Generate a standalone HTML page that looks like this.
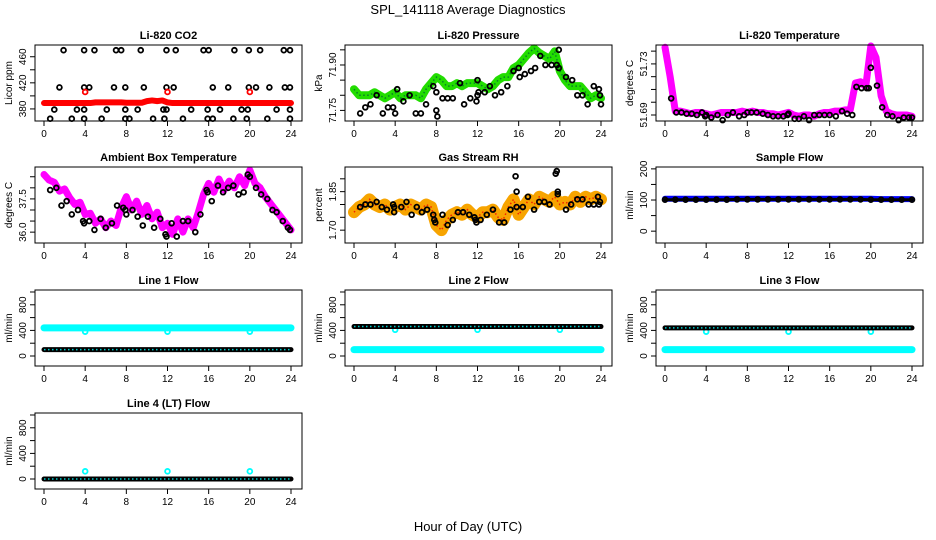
<!DOCTYPE html>
<html><head><meta charset="utf-8"><style>
html,body{margin:0;padding:0;background:#fff}
svg{display:block;font-family:"Liberation Sans",sans-serif}
</style></head><body>
<svg id="c" width="936" height="540" viewBox="0 0 936 540" xmlns="http://www.w3.org/2000/svg">
<text x="468" y="14" text-anchor="middle" font-size="13">SPL_141118  Average Diagnostics</text>
<text x="468" y="531" text-anchor="middle" font-size="13">Hour of Day (UTC)</text>
</svg>
<script>
// ---- data ----
const xTicks=[0,4,8,12,16,20,24];
const denseH=[0,0.5,1,1.5,2,2.5,3,3.5,4,4.5,5,5.5,6,6.5,7,7.5,8,8.5,9,9.5,10,10.5,11,11.5,12,12.5,13,13.5,14,14.5,15,15.5,16,16.5,17,17.5,18,18.5,19,19.5,20,20.5,21,21.5,22,22.5,23,23.5,24];
const hourlyH=[0,1,2,3,4,5,6,7,8,9,10,11,12,13,14,15,16,17,18,19,20,21,22,23,24];
const dipH=[4,12,20];

const co2Red=[389,389,389,389,389,389,389,389,389,389,390,390,390,390,390,390,389.5,389.5,389.5,389.5,392,393,392,393,390,389,389,389,389,389,389,389,389,389,389,389,389,389,389,389,389,389,389,389,389,389,389,389,389];
const co2RedDip=[406,406,406];
const co2BH=[1.9,3.9,4.9,7.0,7.5,9.4,11.9,12.8,15.5,16.0,18.5,19.9,21.0,23.3,23.9,1.5,3.9,4.4,6.8,7.9,9.7,11.9,12.6,16.4,17.9,19.9,20.6,21.9,23.4,23.9,1.0,3.2,3.9,6.1,7.9,9.1,11.6,11.9,14.3,15.9,17.1,19.2,19.8,22.6,23.9,0.6,2.7,3.9,5.6,7.9,8.3,10.6,11.7,13.5,15.9,16.4,18.4,19.7,21.7,23.9];
const co2BV=[470,470,470,470,470,470,470,470,470,470,470,470,470,470,470,413,413,413,413,413,413,413,413,413,413,413,413,413,413,413,379,379,379,379,379,379,379,379,379,379,379,379,379,379,379,365,365,365,365,365,365,365,365,365,365,365,365,365,365,365];

const presGreen=[71.82,71.80,71.80,71.80,71.81,71.80,71.79,71.80,71.81,71.79,71.80,71.80,71.80,71.79,71.82,71.84,71.86,71.85,71.83,71.83,71.84,71.83,71.84,71.84,71.84,71.83,71.82,71.83,71.85,71.86,71.86,71.89,71.90,71.92,71.94,71.955,71.94,71.93,71.92,71.945,71.88,71.85,71.83,71.83,71.83,71.81,71.79,71.80,71.79];
const presBH=[0.6,1.1,1.6,2.2,2.8,3.3,3.8,4.0,4.2,4.8,5.4,6.0,6.5,7.0,7.7,8.0,8.0,8.1,8.6,9.1,9.6,10.3,10.7,11.3,11.9,12.0,12.0,12.1,12.7,13.2,13.7,14.3,14.9,15.5,16.0,16.1,16.6,17.2,17.6,18.1,18.6,19.2,19.7,19.9,19.9,20.6,21.2,21.7,22.2,22.7,23.3,23.8,23.9,24.0];
const presBV=[71.74,71.76,71.77,71.80,71.74,71.76,71.76,71.74,71.82,71.78,71.80,71.74,71.74,71.77,71.83,71.81,71.75,71.73,71.79,71.79,71.79,71.84,71.77,71.79,71.78,71.80,71.85,71.81,71.81,71.83,71.80,71.81,71.83,71.88,71.89,71.86,71.87,71.88,71.89,71.93,71.90,71.90,71.90,71.89,71.95,71.86,71.85,71.80,71.80,71.77,71.83,71.82,71.80,71.77];

const tempMag=[51.743,51.720,51.693,51.693,51.692,51.691,51.692,51.692,51.691,51.690,51.691,51.692,51.692,51.692,51.692,51.693,51.692,51.693,51.692,51.692,51.691,51.691,51.690,51.691,51.692,51.690,51.689,51.690,51.690,51.689,51.691,51.692,51.692,51.693,51.693,51.694,51.694,51.715,51.716,51.712,51.744,51.735,51.705,51.693,51.691,51.690,51.690,51.690,51.689];
const tempBH=[0.6,1.1,1.6,2.1,2.6,3.1,3.6,3.9,4.0,4.5,5.1,5.6,6.1,6.6,7.2,7.7,8.0,8.4,8.9,9.5,10.0,10.5,11.0,11.5,11.9,12.0,12.6,13.0,13.5,14.0,14.5,15.0,15.5,16.0,16.6,17.2,17.7,18.2,18.6,19.1,19.6,19.8,20.0,20.6,21.1,21.6,22.1,22.7,23.2,23.7,24.0];
const tempBV=[51.703,51.692,51.692,51.691,51.691,51.690,51.692,51.689,51.690,51.688,51.690,51.686,51.690,51.692,51.689,51.690,51.692,51.692,51.692,51.691,51.690,51.689,51.689,51.689,51.690,51.691,51.687,51.687,51.689,51.686,51.690,51.690,51.690,51.690,51.689,51.693,51.691,51.690,51.712,51.711,51.711,51.711,51.727,51.713,51.696,51.690,51.689,51.686,51.688,51.688,51.688];

const ambMag=[38.60,38.35,38.25,37.85,37.95,37.55,37.25,37.35,36.80,36.85,36.40,36.60,36.20,36.50,36.30,37.10,37.60,37.00,37.40,36.80,37.20,36.60,36.90,36.20,36.40,35.90,36.60,36.00,36.60,36.20,36.90,37.70,38.20,37.80,38.40,37.90,38.30,38.00,38.50,38.10,38.80,38.20,38.00,37.60,37.30,37.00,36.70,36.40,36.10];
const ambBH=[0.6,1.2,1.7,2.2,2.7,3.3,3.8,3.9,4.4,4.9,5.5,6.0,6.6,7.1,7.7,7.9,8.0,8.6,9.1,9.6,10.1,10.7,11.3,11.8,11.9,12.4,12.9,13.5,14.0,14.7,15.2,15.8,15.9,16.3,16.9,17.4,17.9,18.4,18.9,19.4,19.8,20.0,20.6,21.1,21.7,22.2,22.6,23.2,23.7,23.9];
const ambBV=[37.9,38.0,37.2,37.4,36.8,37.0,36.5,36.4,36.5,36.1,36.6,36.2,36.4,37.2,37.1,37.0,36.8,37.0,36.7,36.3,36.7,36.2,36.6,35.9,35.8,36.4,35.8,36.5,36.5,36.0,36.8,37.9,37.8,37.4,38.1,37.8,38.0,38.1,37.7,37.8,38.6,38.5,38.0,37.7,37.5,37.0,36.9,36.5,36.2,36.1];

const rhOrange=[1.77,1.79,1.80,1.82,1.80,1.79,1.80,1.78,1.79,1.80,1.78,1.80,1.79,1.78,1.80,1.79,1.72,1.70,1.74,1.76,1.77,1.76,1.78,1.76,1.75,1.77,1.77,1.78,1.75,1.74,1.79,1.82,1.76,1.79,1.82,1.80,1.83,1.82,1.81,1.83,1.80,1.81,1.80,1.83,1.81,1.83,1.82,1.83,1.82];
const rhBH=[0.6,1.1,1.6,2.2,2.7,3.2,3.8,3.9,3.9,4.6,5.1,5.6,6.1,6.6,7.1,7.7,7.8,7.9,8.6,9.1,9.6,10.1,10.6,11.2,11.7,11.8,11.9,12.3,12.9,13.5,14.1,14.6,15.2,15.7,15.8,15.8,16.4,16.9,17.5,18.0,18.5,19.0,19.6,19.7,19.8,19.8,20.6,21.1,21.7,22.2,22.8,23.3,23.7,23.8,23.9];
const rhBV=[1.79,1.80,1.80,1.81,1.79,1.78,1.80,1.79,1.77,1.79,1.81,1.76,1.79,1.77,1.78,1.76,1.74,1.73,1.76,1.72,1.74,1.77,1.77,1.76,1.75,1.74,1.73,1.74,1.76,1.78,1.73,1.73,1.78,1.91,1.85,1.79,1.79,1.83,1.78,1.81,1.81,1.80,1.92,1.93,1.84,1.85,1.78,1.80,1.82,1.82,1.80,1.80,1.83,1.80,1.81];

const sampleBlue=[104,104,104,104,104,104,104,104,104,104,104,104,104,104,104,104,104,104,104,104,104,103,103,103,103];
const sampleBlack=[101,101,101,101,101,101,101,102,102,102,102,102,102,102,102,102,102,102,102,102,101,101,101,101,101];

const line1Cyan=[440,440,440,440,440,440,440,440,440,440,440,440,440,440,440,440,440,440,440,440,440,440,440,440,440];
const line1Black=[100,100,100,100,100,100,100,100,100,100,100,100,100,100,100,100,100,100,100,100,100,100,100,100,100];
const line1Dip=[380,380,380];
const line2Cyan=[100,100,100,100,100,100,100,100,100,100,100,100,100,100,100,100,100,100,100,100,100,100,100,100,100];
const line2Black=[460,460,460,460,460,460,460,460,460,460,460,460,460,460,460,460,460,460,460,460,460,460,460,460,460];
const line2Dip=[410,410,410];
const line3Cyan=[100,100,100,100,100,100,100,100,100,100,100,100,100,100,100,100,100,100,100,100,100,100,100,100,100];
const line3Black=[440,440,440,440,440,440,440,440,440,440,440,440,440,440,440,440,440,440,440,440,440,440,440,440,440];
const line3Dip=[380,380,380];
const line4Black=[0,0,0,0,0,0,0,0,0,0,0,0,0,0,0,0,0,0,0,0,0,0,0,0,0];
const line4Dip=[120,120,120];

// ---- drawing ----
const svg=document.getElementById('c');
const NS='http://www.w3.org/2000/svg';
function mk(tag,attrs,parent){const e=document.createElementNS(NS,tag);for(const k in attrs)e.setAttribute(k,attrs[k]);(parent||svg).appendChild(e);return e;}
const colL=[35,345,656], rowT=[45,167,290,413], BW=267, BH=76;

function panel(cfg){
  const L=colL[cfg.col], T=rowT[cfg.row], B=T+BH;
  const g=mk('g',{});
  
  
  const xs=t=>L+9+t/24*247;
  const ys=v=>B-(v-cfg.ymin)/(cfg.ymax-cfg.ymin)*BH;
  const t=mk('text',{x:L+BW/2,y:T-6,'text-anchor':'middle','font-size':11,'font-weight':'bold'},g);
  t.textContent=cfg.title;
  
  
  const clip=mk('g',{},g);
  cfg.series.forEach(s=>{
    const sg=mk('g',{},clip);
    
    
    const vis=s.h.map((h,i)=>[xs(h),ys(s.v[i])]).filter(p=>p[1]>T-4&&p[1]<B+4);
    if(s.band){
      const pl=mk('polyline',{points:vis.map(p=>p.join(',')).join(' '),fill:'none',stroke:s.band,'stroke-width':s.w,'stroke-linejoin':'round','stroke-linecap':'round'},sg);
      
      
      if(s.dash){mk('polyline',{points:vis.map(p=>p.join(',')).join(' '),fill:'none',stroke:s.dash,'stroke-width':1.5,'stroke-dasharray':'1.5 2.5','opacity':0.8},sg);}
    }
    if(s.pt){
      vis.forEach(p=>{
        const c=mk('circle',{cx:p[0],cy:p[1],r:s.r||2.4,fill:'none',stroke:s.pt,'stroke-width':1.8},sg);
        
        
      });
    }
  });
  const box=mk('rect',{x:L,y:T,width:BW,height:BH,fill:'none',stroke:'#000','stroke-width':1},g);
  
  
  xTicks.forEach(v=>{
    mk('line',{x1:xs(v),x2:xs(v),y1:B,y2:B+5,stroke:'#000'},g);
    const l=mk('text',{x:xs(v),y:B+16,'text-anchor':'middle','font-size':10},g);
    l.textContent=v;
    
    
  });
  cfg.yt.forEach((v,i)=>{
    const y=ys(v);
    mk('line',{x1:L-5,x2:L,y1:y,y2:y,stroke:'#000'},g);
    if(cfg.yl[i]){
      const l=mk('text',{x:L-9,y:y,'text-anchor':'middle','font-size':10,transform:`rotate(-90 ${L-9} ${y})`},g);
      l.textContent=cfg.yl[i];
      
      
    }
  });
  const yl=mk('text',{x:L-23,y:T+BH/2,'text-anchor':'middle','font-size':10,transform:`rotate(-90 ${L-23} ${T+BH/2})`},g);
  yl.textContent=cfg.ylab;
  
  
}

const flowT=[0,200,400,600,800,1000], flowL=['0','','400','','800',''];
panel({name:'co2',title:'Li-820 CO2',col:0,row:0,ymin:361.5,ymax:478,yt:[380,400,420,440,460],yl:['380','','420','','460'],ylab:'Licor ppm',
 series:[{id:'black',h:co2BH,v:co2BV,pt:'#000'},{id:'red',h:denseH,v:co2Red,band:'#f00',w:6},{id:'red-dip',h:dipH,v:co2RedDip,pt:'#f00'}]});
panel({name:'pressure',title:'Li-820 Pressure',col:1,row:0,ymin:71.715,ymax:71.966,yt:[71.75,71.80,71.85,71.90,71.95],yl:['71.75','','','71.90',''],ylab:'kPa',
 series:[{id:'green',h:denseH,v:presGreen,band:'#22dd00',w:8,dash:'#063'},{id:'black',h:presBH,v:presBV,pt:'#000'}]});
panel({name:'li820-temp',title:'Li-820 Temperature',col:2,row:0,ymin:51.6853,ymax:51.7448,yt:[51.69,51.70,51.71,51.72,51.73,51.74],yl:['51.69','','','','51.73',''],ylab:'degrees C',
 series:[{id:'magenta',h:denseH,v:tempMag,band:'#f0f',w:7},{id:'black',h:tempBH,v:tempBV,pt:'#000'}]});
panel({name:'ambient',title:'Ambient Box Temperature',col:0,row:1,ymin:35.51,ymax:38.94,yt:[36.0,36.5,37.0,37.5,38.0,38.5],yl:['36.0','','','37.5','',''],ylab:'degrees C',
 series:[{id:'magenta',h:denseH,v:ambMag,band:'#f0f',w:7},{id:'black',h:ambBH,v:ambBV,pt:'#000'}]});
panel({name:'rh',title:'Gas Stream RH',col:1,row:1,ymin:1.65,ymax:1.946,yt:[1.70,1.75,1.80,1.85,1.90],yl:['1.70','','','1.85',''],ylab:'percent',
 series:[{id:'orange',h:denseH,v:rhOrange,band:'#f7a400',w:12,dash:'#e00'},{id:'black',h:rhBH,v:rhBV,pt:'#000'}]});
panel({name:'sample-flow',title:'Sample Flow',col:2,row:1,ymin:-38,ymax:206,yt:[0,50,100,150,200],yl:['0','','100','','200'],ylab:'ml/min',
 series:[{id:'blue',h:hourlyH,v:sampleBlue,band:'#00f',w:6},{id:'black',h:hourlyH,v:sampleBlack,band:'#000',w:3,pt:'#000'}]});
panel({name:'line1',title:'Line 1 Flow',col:0,row:2,ymin:-156,ymax:1031,yt:flowT,yl:flowL,ylab:'ml/min',
 series:[{id:'cyan',h:hourlyH,v:line1Cyan,band:'#0ff',w:7},{id:'cyan-dip',h:dipH,v:line1Dip,pt:'#0ff'},{id:'black',h:hourlyH,v:line1Black,band:'#000',w:5,dash:'#0ff'}]});
panel({name:'line2',title:'Line 2 Flow',col:1,row:2,ymin:-156,ymax:1031,yt:flowT,yl:flowL,ylab:'ml/min',
 series:[{id:'cyan',h:hourlyH,v:line2Cyan,band:'#0ff',w:7},{id:'cyan-dip',h:dipH,v:line2Dip,pt:'#0ff'},{id:'black',h:hourlyH,v:line2Black,band:'#000',w:5,dash:'#0ff'}]});
panel({name:'line3',title:'Line 3 Flow',col:2,row:2,ymin:-156,ymax:1031,yt:flowT,yl:flowL,ylab:'ml/min',
 series:[{id:'cyan',h:hourlyH,v:line3Cyan,band:'#0ff',w:7},{id:'cyan-dip',h:dipH,v:line3Dip,pt:'#0ff'},{id:'black',h:hourlyH,v:line3Black,band:'#000',w:5,dash:'#0ff'}]});
panel({name:'line4',title:'Line 4 (LT) Flow',col:0,row:3,ymin:-156,ymax:1031,yt:flowT,yl:flowL,ylab:'ml/min',
 series:[{id:'cyan-dip',h:dipH,v:line4Dip,pt:'#0ff'},{id:'black',h:hourlyH,v:line4Black,band:'#000',w:5,dash:'#0ff'}]});
</script>
</body></html>
